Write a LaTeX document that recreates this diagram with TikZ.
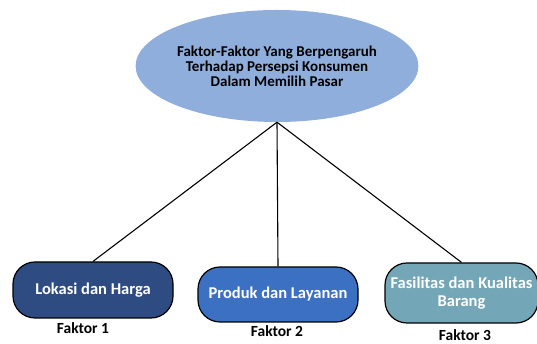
\documentclass[tikz,border=0pt]{standalone}
\usepackage{fontspec}
\setmainfont{Carlito}
\usepackage{tikz}
\usetikzlibrary{positioning,shapes.geometric}
\definecolor{topblue}{HTML}{8FAEDC}
\definecolor{navyfill}{HTML}{2F4C82}
\definecolor{midblue}{HTML}{3B70C2}
\definecolor{tealfill}{HTML}{73A6B6}

\begin{document}
\begin{tikzpicture}[x=1pt, y=1pt,
    topell/.style={ellipse, fill=topblue, minimum width=226pt, minimum height=112pt, inner sep=0pt, align=center, font=\fontsize{15}{15}\selectfont\bfseries},
    factbox/.style={draw=black, line width=1.2pt, rounded corners=22pt, text=white, align=center, inner sep=0pt, font=\fontsize{16.5}{18}\selectfont\bfseries},
    link/.style={line width=1.1pt, color=black},
    flabel/.style={font=\fontsize{15.5}{17}\selectfont\bfseries},
]
\useasboundingbox (0,0) rectangle (537,344);
\node[topell] (top) at (277,278) {Faktor-Faktor Yang Berpengaruh\\Terhadap Persepsi Konsumen\\Dalam Memilih Pasar};

\node[factbox, fill=navyfill, minimum width=160pt, minimum height=56pt] (lokasi) at (93,54) {Lokasi dan Harga};
\node[factbox, fill=midblue, minimum width=160pt, minimum height=55pt] (produk) at (278,49.5) {Produk dan Layanan};
\node[factbox, fill=tealfill, minimum width=153pt, minimum height=60pt] (fasilitas) at (461.5,51) {Fasilitas dan Kualitas\\Barang};

\node[flabel] (f1) at (83,16) {Faktor 1};
\node[flabel] (f2) at (277,13) {Faktor 2};
\node[flabel] (f3) at (465,8.5) {Faktor 3};

\draw[link] (top.south) -- (lokasi.north);
\draw[link] (top.south) -- (produk.north);
\draw[link] (top.south) -- (fasilitas.north);
\end{tikzpicture}
\end{document}
